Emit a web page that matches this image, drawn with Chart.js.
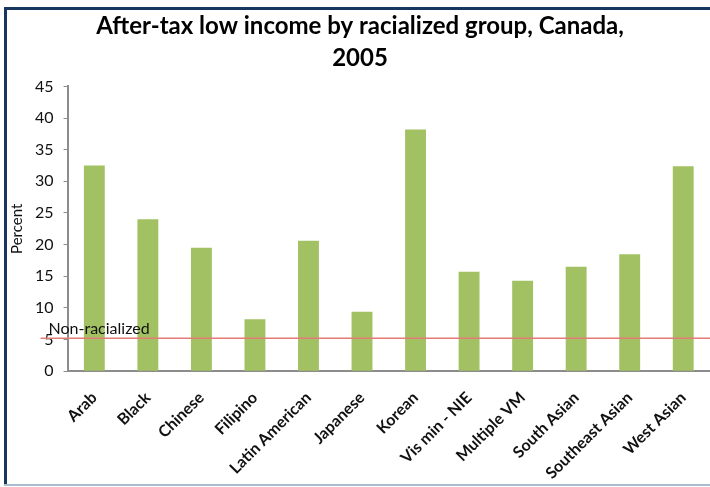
<!DOCTYPE html>
<html>
<head>
<meta charset="utf-8">
<script src="https://cdn.jsdelivr.net/npm/chart.js@4"></script>
<style>
  html, body { margin: 0; padding: 0; background: #fff; }
  #wrap { position: relative; width: 710px; height: 487px; overflow: hidden; }
  #c { position: absolute; left: 0; top: 0; }
  .fr { position: absolute; }
</style>
</head>
<body>
<div id="wrap">
  <canvas id="c" width="710" height="487"></canvas>
  <div class="fr" style="left:4px;top:7px;width:706px;height:3px;background:#17375e;"></div>
  <div class="fr" style="left:4px;top:7px;width:3px;height:478px;background:#17375e;"></div>
  <div class="fr" style="left:4px;top:484px;width:706px;height:2px;background:#a9bccf;"></div>
</div>
<script>
const categories = ['Arab', 'Black', 'Chinese', 'Filipino', 'Latin American', 'Japanese', 'Korean', 'Vis min - NIE', 'Multiple VM', 'South Asian', 'Southeast Asian', 'West Asian'];
const lowIncomePercent = [32.5, 24.0, 19.5, 8.2, 20.6, 9.4, 38.2, 15.7, 14.3, 16.5, 18.5, 32.4];
const nonRacialized = 5.2;
const nonRacializedLabel = 'Non-racialized';
const titleLines = ['After-tax low income by racialized group, Canada,', '2005'];
const yAxisTitle = 'Percent';

const FONT = 'Lato, "Liberation Sans", sans-serif';

const refLine = {
  id: 'refLine',
  afterDatasetsDraw(chart) {
    const { ctx, chartArea, scales } = chart;
    const y = scales.y.getPixelForValue(nonRacialized);
    ctx.save();
    ctx.strokeStyle = '#e37b77';
    ctx.lineWidth = 1.5;
    ctx.beginPath();
    ctx.moveTo(chartArea.left - 27, y);
    ctx.lineTo(chart.width, y);
    ctx.stroke();
    ctx.fillStyle = '#111';
    ctx.font = '16px ' + FONT;
    ctx.textBaseline = 'alphabetic';
    ctx.textAlign = 'left';
    ctx.fillText(nonRacializedLabel, chartArea.left - 19, y - 4);
    ctx.restore();
  }
};

new Chart(document.getElementById('c'), {
  type: 'bar',
  data: {
    labels: categories,
    datasets: [{
      data: lowIncomePercent,
      backgroundColor: '#a2c163',
      borderWidth: 0,
      barPercentage: 0.39,
      categoryPercentage: 1.0
    }]
  },
  options: {
    responsive: false,
    animation: false,
    layout: { padding: { left: 10, right: 0, top: 0, bottom: -5 } },
    plugins: {
      legend: { display: false },
      tooltip: { enabled: false },
      title: {
        display: true,
        text: titleLines,
        color: '#000',
        font: { family: FONT, size: 24, weight: 'bold', lineHeight: 1.3 },
        padding: { top: 11, bottom: 13 }
      }
    },
    scales: {
      x: {
        grid: { display: false },
        border: { color: '#8c8c8c', width: 2 },
        ticks: {
          color: '#111',
          font: { family: FONT, size: 16, weight: 'bold' },
          maxRotation: 45,
          minRotation: 45,
          autoSkip: false,
          padding: 9
        }
      },
      y: {
        min: 0,
        max: 45,
        grid: { drawOnChartArea: false, drawTicks: true, tickLength: 4, color: '#8c8c8c' },
        border: { color: '#8c8c8c', width: 2 },
        ticks: {
          stepSize: 5,
          color: '#111',
          font: { family: FONT, size: 16 },
          padding: 10
        },
        title: {
          display: true,
          text: yAxisTitle,
          color: '#111',
          font: { family: FONT, size: 15, lineHeight: 1.0 },
          padding: { top: 0, bottom: 0 }
        }
      }
    }
  },
  plugins: [refLine]
});
</script>
</body>
</html>
